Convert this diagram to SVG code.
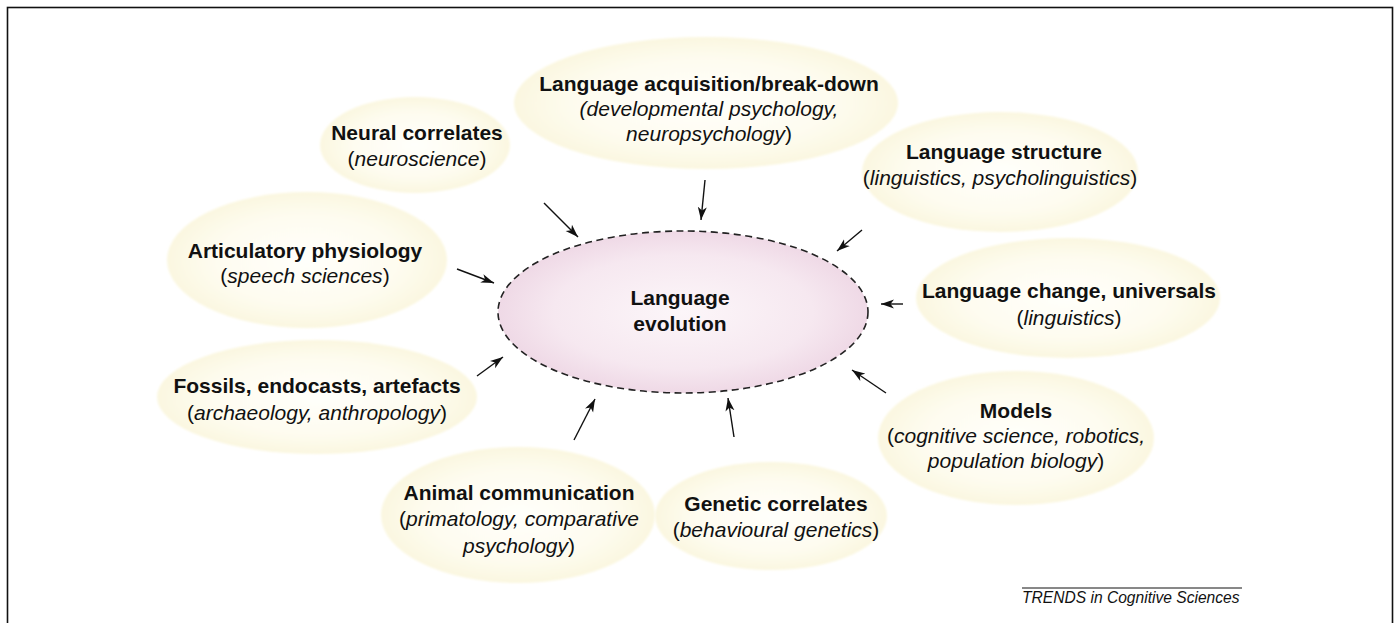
<svg xmlns="http://www.w3.org/2000/svg" width="1395" height="623" viewBox="0 0 1395 623">
<style>
text{font-family:"Liberation Sans",Arial,Helvetica,sans-serif;font-size:21px;fill:#111;text-anchor:middle}
.b{font-weight:bold}
.i{font-style:italic}
.node{fill:url(#yel)}
.conn line{stroke:#111;stroke-width:1.4;marker-end:url(#ah)}
</style>
<defs>
<radialGradient id="yel" cx="50%" cy="50%" r="50%">
<stop offset="0%" stop-color="#fffffb"/>
<stop offset="65%" stop-color="#fefcf0"/>
<stop offset="100%" stop-color="#fbf7e0"/>
</radialGradient>
<radialGradient id="pink" cx="50%" cy="50%" r="50%">
<stop offset="0%" stop-color="#fcf6f9"/>
<stop offset="70%" stop-color="#f6e8f0"/>
<stop offset="100%" stop-color="#efd9e6"/>
</radialGradient>
<filter id="soft" x="-10%" y="-10%" width="120%" height="120%">
<feGaussianBlur stdDeviation="1"/>
</filter>
<marker id="ah" markerUnits="userSpaceOnUse" markerWidth="14" markerHeight="10" refX="13" refY="5" orient="auto">
<path d="M0,0.5 L13,5 L0,9.5 L3.5,5 z" fill="#111"/>
</marker>
</defs>
<rect x="0" y="0" width="1395" height="623" fill="#fff"/>
<rect x="7.5" y="7.5" width="1385" height="700" fill="none" stroke="#111" stroke-width="1.6"/>

<g id="n-acquisition">
<ellipse class="node" cx="706" cy="103" rx="192" ry="66" filter="url(#soft)"/>
<text x="709" y="91" class="b">Language acquisition/break-down</text>
<text x="709" y="116" class="i">(developmental psychology,</text>
<text x="709" y="141"><tspan class="i">neuropsychology</tspan>)</text>
</g>
<g id="n-neural">
<ellipse class="node" cx="415" cy="145" rx="95" ry="48" filter="url(#soft)"/>
<text x="417" y="140" class="b">Neural correlates</text>
<text x="417" y="166">(<tspan class="i">neuroscience</tspan>)</text>
</g>
<g id="n-articulatory">
<ellipse class="node" cx="307" cy="260" rx="140" ry="68" filter="url(#soft)"/>
<text x="305" y="258" class="b">Articulatory physiology</text>
<text x="305" y="283">(<tspan class="i">speech sciences</tspan>)</text>
</g>
<g id="n-fossils">
<ellipse class="node" cx="317" cy="397" rx="160" ry="57" filter="url(#soft)"/>
<text x="317" y="393" class="b">Fossils, endocasts, artefacts</text>
<text x="317" y="420">(<tspan class="i">archaeology, anthropology</tspan>)</text>
</g>
<g id="n-animal">
<ellipse class="node" cx="518" cy="515" rx="137" ry="68" filter="url(#soft)"/>
<text x="519" y="500" class="b">Animal communication</text>
<text x="519" y="526">(<tspan class="i">primatology, comparative</tspan></text>
<text x="519" y="553"><tspan class="i">psychology</tspan>)</text>
</g>
<g id="n-genetic">
<ellipse class="node" cx="771" cy="516" rx="116" ry="54" filter="url(#soft)"/>
<text x="776" y="511" class="b">Genetic correlates</text>
<text x="776" y="537">(<tspan class="i">behavioural genetics</tspan>)</text>
</g>
<g id="n-models">
<ellipse class="node" cx="1016" cy="438" rx="138" ry="67" filter="url(#soft)"/>
<text x="1016" y="418" class="b">Models</text>
<text x="1016" y="443">(<tspan class="i">cognitive science, robotics,</tspan></text>
<text x="1016" y="468"><tspan class="i">population biology</tspan>)</text>
</g>
<g id="n-change">
<ellipse class="node" cx="1068" cy="298" rx="152" ry="60" filter="url(#soft)"/>
<text x="1069" y="298" class="b">Language change, universals</text>
<text x="1069" y="325">(<tspan class="i">linguistics</tspan>)</text>
</g>
<g id="n-structure">
<ellipse class="node" cx="1000" cy="172" rx="138" ry="60" filter="url(#soft)"/>
<text x="1004" y="159" class="b">Language structure</text>
<text x="1000" y="185">(<tspan class="i">linguistics, psycholinguistics</tspan>)</text>
</g>
<g id="n-center">
<ellipse cx="683" cy="312" rx="185" ry="81" fill="url(#pink)" stroke="#222" stroke-width="1.6" stroke-dasharray="7,4.5"/>
<text x="680" y="305" class="b">Language</text>
<text x="680" y="331" class="b">evolution</text>
</g>

<g id="connectors" class="conn">
<line x1="544" y1="203" x2="578" y2="237"/>
<line x1="705" y1="180" x2="701" y2="220"/>
<line x1="862" y1="230" x2="837" y2="251"/>
<line x1="903" y1="304" x2="881" y2="304"/>
<line x1="886" y1="393" x2="852" y2="370"/>
<line x1="734" y1="437" x2="728" y2="398"/>
<line x1="574" y1="440" x2="595" y2="399"/>
<line x1="477" y1="376" x2="503" y2="357"/>
<line x1="457" y1="269" x2="494" y2="283"/>
</g>

<g id="footer">
<line x1="1022" y1="588" x2="1242" y2="588" stroke="#111" stroke-width="1"/>
<text x="1022" y="603" class="i" style="font-size:15.6px;text-anchor:start">TRENDS in Cognitive Sciences</text>
</g>
</svg>
